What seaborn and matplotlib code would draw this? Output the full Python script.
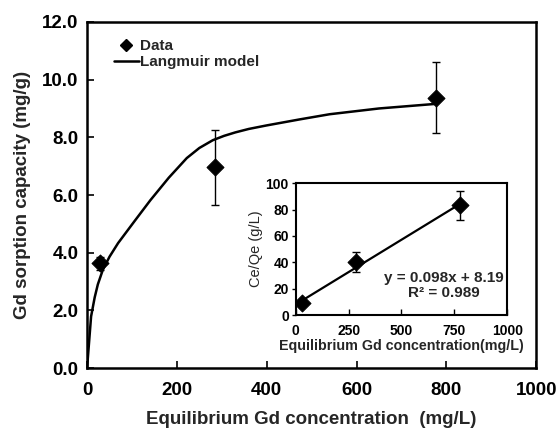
import numpy as np
import pandas as pd
import matplotlib
matplotlib.use("Agg")
import matplotlib.pyplot as plt
from matplotlib.lines import Line2D
import seaborn as sns

# ---- data ----
conc = [29, 285, 777]                 # equilibrium Gd concentration (mg/L)
qe = [3.63, 6.97, 9.37]               # sorption capacity (mg/g)
qe_err = [0.22, 1.30, 1.23]

model_x = [0, 9, 17, 24, 35, 50, 69, 106, 141, 182, 222, 250, 280, 305, 330, 360, 399, 473, 540, 650, 777]
model_y = [0, 1.79, 2.45, 2.9, 3.40, 3.86, 4.33, 5.10, 5.82, 6.6, 7.28, 7.63, 7.90, 8.05, 8.17, 8.29, 8.41,
           8.62, 8.80, 9.0, 9.16]

ceqe = [8.9, 40.4, 83.3]              # Ce/Qe (g/L)
ceqe_err = [2.0, 7.8, 11.1]
fit_x = [27, 777]
fit_y = [10.8, 84.3]

main_xticks = [0, 200, 400, 600, 800, 1000]
main_yticks = [0, 2, 4, 6, 8, 10, 12]
inset_xticks = [0, 250, 500, 750, 1000]
inset_yticks = [0, 20, 40, 60, 80, 100]

sns.set_theme(style="ticks")
plt.rcParams['font.family'] = ['Liberation Sans', 'DejaVu Sans']

fig = plt.figure(figsize=(5.58, 4.30), dpi=100)
ax = fig.add_axes([0.156, 0.144, 0.805, 0.805])

df_model = pd.DataFrame({"x": model_x, "y": model_y})
df_data = pd.DataFrame({"x": conc, "y": qe})

sns.lineplot(data=df_model, x="x", y="y", ax=ax, color="black", lw=1.8, sort=False)
ax.errorbar(conc, qe, yerr=qe_err, fmt="none", ecolor="black", elinewidth=1.0,
            capsize=3, capthick=1.0, zorder=3)
sns.scatterplot(data=df_data, x="x", y="y", ax=ax, marker="D", s=75, color="black",
                edgecolor="black", zorder=4)

ax.set_xlim(0, 1000)
ax.set_ylim(0, 12)
ax.set_xticks(main_xticks)
ax.set_yticks(main_yticks)
ax.set_xticklabels([str(v) for v in main_xticks], fontweight="bold", fontsize=13.5)
ax.set_yticklabels([f"{v:.1f}" for v in main_yticks], fontweight="bold", fontsize=13.5)
ax.tick_params(direction="in", length=5, width=1.2, colors="black")
ax.tick_params(axis="x", pad=10)
ax.tick_params(axis="y", pad=6)
for s in ax.spines.values():
    s.set_linewidth(1.8)
    s.set_color("black")
    s.set_visible(True)
ax.set_xlabel("Equilibrium Gd concentration  (mg/L)", fontweight="bold", fontsize=13.5, labelpad=9)
ax.set_ylabel("Gd sorption capacity (mg/g)", fontweight="bold", fontsize=13.5, labelpad=8)

handles = [Line2D([], [], marker="D", color="black", ls="none", ms=6),
           Line2D([], [], color="black", lw=1.8)]
ax.legend(handles, ["Data", "Langmuir model"], loc="upper left",
          bbox_to_anchor=(0.03, 0.99), frameon=False, handlelength=1.6,
          handletextpad=0.1, labelspacing=0.15, prop={"weight": "bold", "size": 11})

# ---- inset ----
ins = fig.add_axes([0.530, 0.267, 0.379, 0.307])
df_fit = pd.DataFrame({"x": fit_x, "y": fit_y})
df_in = pd.DataFrame({"x": conc, "y": ceqe})
sns.lineplot(data=df_fit, x="x", y="y", ax=ins, color="black", lw=1.6)
ins.errorbar(conc, ceqe, yerr=ceqe_err, fmt="none", ecolor="black", elinewidth=1.0,
             capsize=3, capthick=1.0, zorder=3)
sns.scatterplot(data=df_in, x="x", y="y", ax=ins, marker="D", s=75, color="black",
                edgecolor="black", zorder=4)
ins.set_xlim(0, 1000)
ins.set_ylim(0, 100)
ins.set_xticks(inset_xticks)
ins.set_yticks(inset_yticks)
ins.set_xticklabels([str(v) for v in inset_xticks], fontweight="bold", fontsize=10)
ins.set_yticklabels([str(v) for v in inset_yticks], fontweight="bold", fontsize=10)
ins.tick_params(axis="x", direction="in", length=4, width=1.0, pad=6, colors="black")
ins.tick_params(axis="y", direction="out", length=3, width=1.0, pad=2, colors="black")
for s in ins.spines.values():
    s.set_linewidth(1.5)
    s.set_color("black")
    s.set_visible(True)
ins.set_xlabel("Equilibrium Gd concentration(mg/L)", fontweight="bold", fontsize=10.3, labelpad=1)
ins.set_ylabel("Ce/Qe (g/L)", fontsize=10.5, labelpad=2)
ins.text(0.985, 0.225, "y = 0.098x + 8.19\nR² = 0.989", transform=ins.transAxes,
         ha="right", va="center", multialignment="center", fontweight="bold",
         fontsize=11, linespacing=1.1)

fig.savefig("out.png", dpi=100)
